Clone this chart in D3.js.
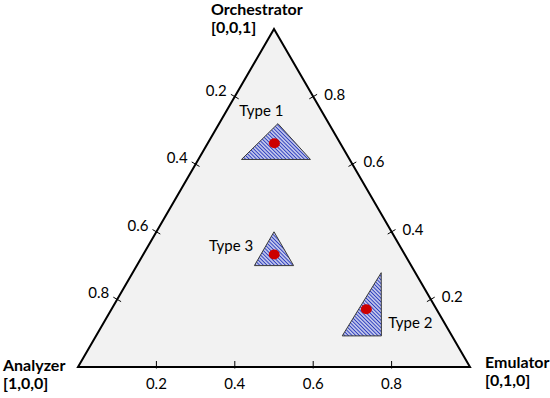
<!DOCTYPE html>
<html>
<head>
<meta charset="utf-8">
<script src="https://cdn.jsdelivr.net/npm/d3@7"></script>
<style>
  body { margin: 0; background: #fff; }
  text { font-family: Lato, "Open Sans", sans-serif; fill: #000; }
</style>
</head>
<body>
<div id="chart"></div>
<script>
// Ecken des Dreiecks: [a, b, c] = [Analyzer, Emulator, Orchestrator]
const vertexNames = ["Analyzer", "Emulator", "Orchestrator"];
const vertexCoords = ["[1,0,0]", "[0,1,0]", "[0,0,1]"];
const tickValues = [0.2, 0.4, 0.6, 0.8];
const tickLabels = ["0.2", "0.4", "0.6", "0.8"];

// Bereiche als ternäre Koordinaten
const typeNames = ["Type 1", "Type 2", "Type 3"];
const typeRegions = [
    [[0.13, 0.15, 0.72], [0.276, 0.11, 0.614], [0.10, 0.286, 0.614]],
    [[0.087, 0.634, 0.279], [0.28, 0.628, 0.092], [0.18, 0.728, 0.092]],
    [[0.3, 0.3, 0.4], [0.4, 0.3, 0.3], [0.3, 0.4, 0.3]]
];
const typePoints = [
    [0.168, 0.17, 0.662],
    [0.179, 0.65, 0.171],
    [0.333, 0.334, 0.333]
];

const width = 550;
const height = 398;

const svg = d3.select("#chart")
    .append("svg")
    .attr("width", width)
    .attr("height", height);

// Skalen: x über b + c/2, y über c
const x = d3.scaleLinear().domain([0, 1]).range([78, 470]);
const y = d3.scaleLinear().domain([0, 1]).range([367, 29]);

const project = d => [x(d[1] + d[2] / 2), y(d[2])];

// Schraffur
const defs = svg.append("defs");
const pattern = defs.append("pattern")
    .attr("id", "hatch")
    .attr("patternUnits", "userSpaceOnUse")
    .attr("width", 2.6)
    .attr("height", 2.6)
    .attr("patternTransform", "rotate(45)");
pattern.append("rect")
    .attr("width", 2.6).attr("height", 2.6)
    .attr("fill", "#ffffff");
pattern.append("line")
    .attr("x1", 0).attr("y1", 1.3)
    .attr("x2", 2.6).attr("y2", 1.3)
    .attr("stroke", "#2a3bbd")
    .attr("stroke-width", 1.4);

// Dreieck
const corners = [[1, 0, 0], [0, 1, 0], [0, 0, 1]];
svg.append("polygon")
    .attr("points", corners.map(project).join(" "))
    .attr("fill", "#f2f2f2")
    .attr("stroke", "#000")
    .attr("stroke-width", 2)
    .attr("stroke-linejoin", "miter");

// Ticks auf der Basis (Emulator-Anteil b)
const baseTicks = svg.append("g");
tickValues.forEach((t, i) => {
    const p = project([1 - t, t, 0]);
    baseTicks.append("line")
        .attr("x1", p[0]).attr("x2", p[0])
        .attr("y1", p[1] - 6).attr("y2", p[1] + 1.5)
        .attr("stroke", "#000").attr("stroke-width", 1);
    baseTicks.append("text")
        .attr("x", p[0]).attr("y", p[1] + 22)
        .attr("text-anchor", "middle")
        .attr("font-size", 15)
        .text(tickLabels[i]);
});

// Ticks links (Analyzer-Anteil a)
const leftTicks = svg.append("g");
tickValues.forEach((t, i) => {
    const p = project([t, 0, 1 - t]);
    const dx = 4.5 * Math.cos(Math.PI / 6), dy = 4.5 * Math.sin(Math.PI / 6);
    leftTicks.append("line")
        .attr("x1", p[0] - dx).attr("y1", p[1] - dy)
        .attr("x2", p[0] + dx).attr("y2", p[1] + dy)
        .attr("stroke", "#000").attr("stroke-width", 1);
    leftTicks.append("text")
        .attr("x", p[0] - 8).attr("y", p[1] - 1)
        .attr("text-anchor", "end")
        .attr("font-size", 15)
        .text(tickLabels[i]);
});

// Ticks rechts (Orchestrator-Anteil c)
const rightTicks = svg.append("g");
tickValues.forEach((t, i) => {
    const p = project([0, 1 - t, t]);
    const dx = 4.5 * Math.cos(Math.PI / 6), dy = 4.5 * Math.sin(Math.PI / 6);
    rightTicks.append("line")
        .attr("x1", p[0] - dx).attr("y1", p[1] + dy)
        .attr("x2", p[0] + dx).attr("y2", p[1] - dy)
        .attr("stroke", "#000").attr("stroke-width", 1);
    rightTicks.append("text")
        .attr("x", p[0] + 11).attr("y", p[1] + 3)
        .attr("text-anchor", "start")
        .attr("font-size", 15)
        .text(tickLabels[i]);
});

// Bereiche
svg.append("g")
    .selectAll("polygon")
    .data(typeRegions)
    .join("polygon")
    .attr("points", d => d.map(project).join(" "))
    .attr("fill", "url(#hatch)")
    .attr("stroke", "#3a3a3a")
    .attr("stroke-width", 1);

svg.append("g")
    .selectAll("ellipse")
    .data(typePoints)
    .join("ellipse")
    .attr("cx", d => project(d)[0])
    .attr("cy", d => project(d)[1])
    .attr("rx", 5.5)
    .attr("ry", 5)
    .attr("fill", "#cc0000");

// Beschriftung der Typen, relativ zum Punkt
const labelOffset = [
    {dx: -13, dy: -27, anchor: "middle"},
    {dx: 22, dy: 19, anchor: "start"},
    {dx: -21, dy: -3, anchor: "end"}
];
svg.append("g")
    .selectAll("text")
    .data(typePoints)
    .join("text")
    .attr("x", (d, i) => project(d)[0] + labelOffset[i].dx)
    .attr("y", (d, i) => project(d)[1] + labelOffset[i].dy)
    .attr("text-anchor", (d, i) => labelOffset[i].anchor)
    .attr("font-size", 15)
    .text((d, i) => typeNames[i]);

// Eckenbeschriftung
const cornerLabel = [
    {x: 3, y: 371},
    {x: 485, y: 368},
    {x: 211, y: 15}
];
cornerLabel.forEach((c, i) => {
    const t = svg.append("text")
        .attr("x", c.x).attr("y", c.y)
        .attr("font-size", 16)
        .attr("font-weight", "bold");
    t.append("tspan").attr("x", c.x).text(vertexNames[i]);
    t.append("tspan").attr("x", c.x).attr("dy", 18).text(vertexCoords[i]);
});
</script>
</body>
</html>
